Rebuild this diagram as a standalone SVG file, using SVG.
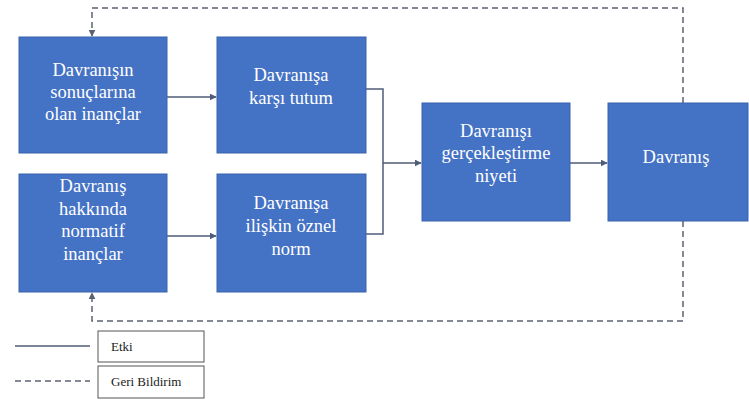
<svg xmlns="http://www.w3.org/2000/svg" width="749" height="405" viewBox="0 0 749 405" font-family="Liberation Serif, serif">
<style>
svg text, text, .t, .lt{font-family:"Liberation Serif","Times New Roman",serif !important}
.box{fill:#4472C4;stroke:#3A63AE;stroke-width:1}
.t{font-size:18.5px;fill:#ffffff;text-anchor:middle}
.lt{font-size:13px;fill:#222222}
.c{fill:none;stroke:#4F5D78;stroke-width:1.5}
.d{fill:none;stroke:#5B6272;stroke-width:1.5;stroke-dasharray:6 4}
.lg{fill:#ffffff;stroke:#555555;stroke-width:1}
</style>
<defs>
<marker id="ah" viewBox="0 0 10 10" refX="9" refY="5" markerWidth="7" markerHeight="7" markerUnits="userSpaceOnUse" orient="auto"><path d="M0,0 L10,5 L0,10 z" fill="#4F5D78"/></marker>
<marker id="ahd" viewBox="0 0 10 10" refX="9" refY="5" markerWidth="7" markerHeight="7" markerUnits="userSpaceOnUse" orient="auto"><path d="M0,0 L10,5 L0,10 z" fill="#5B6272"/></marker>
</defs>
<g id="connectors">
<line class="c" x1="167" y1="97" x2="216" y2="97" marker-end="url(#ah)"/>
<line class="c" x1="167" y1="236" x2="216" y2="236" marker-end="url(#ah)"/>
<polyline class="c" points="366,89 383,89 383,234 366,234"/>
<line class="c" x1="383" y1="163" x2="421" y2="163" marker-end="url(#ah)"/>
<line class="c" x1="570" y1="163" x2="607" y2="163" marker-end="url(#ah)"/>
<polyline class="d" points="683,103 683,8 92,8 92,36" marker-end="url(#ahd)"/>
<polyline class="d" points="683,221 683,321 92,321 92,293" marker-end="url(#ahd)"/>
</g>
<g id="n1"><rect class="box" x="19" y="37" width="148" height="116"/>
<text class="t" font-family="Liberation Serif" x="93" y="76">Davranışın</text><text class="t" font-family="Liberation Serif" x="93" y="98">sonuçlarına</text><text class="t" font-family="Liberation Serif" x="93" y="120">olan inançlar</text></g>
<g id="n2"><rect class="box" x="217" y="37" width="149" height="116"/>
<text class="t" font-family="Liberation Serif" x="291" y="81">Davranışa</text><text class="t" font-family="Liberation Serif" x="291" y="104">karşı tutum</text></g>
<g id="n3"><rect class="box" x="19" y="174" width="148" height="118"/>
<text class="t" font-family="Liberation Serif" x="93" y="192">Davranış</text><text class="t" font-family="Liberation Serif" x="93" y="215">hakkında</text><text class="t" font-family="Liberation Serif" x="93" y="237">normatif</text><text class="t" font-family="Liberation Serif" x="93" y="260">inançlar</text></g>
<g id="n4"><rect class="box" x="217" y="174" width="149" height="118"/>
<text class="t" font-family="Liberation Serif" x="291" y="209">Davranışa</text><text class="t" font-family="Liberation Serif" x="291" y="232">ilişkin öznel</text><text class="t" font-family="Liberation Serif" x="291" y="255">norm</text></g>
<g id="n5"><rect class="box" x="422" y="103" width="148" height="118"/>
<text class="t" font-family="Liberation Serif" x="496" y="137">Davranışı</text><text class="t" font-family="Liberation Serif" x="496" y="159">gerçekleştirme</text><text class="t" font-family="Liberation Serif" x="496" y="182">niyeti</text></g>
<g id="n6"><rect class="box" x="608" y="103" width="140" height="118"/>
<text class="t" font-family="Liberation Serif" x="676" y="163">Davranış</text></g>
<g id="legend">
<line x1="15" y1="346" x2="90" y2="346" stroke="#4F5D78" stroke-width="1.5"/>
<rect class="lg" x="98" y="331" width="106" height="31"/>
<text class="lt" font-family="Liberation Serif" x="111" y="351">Etki</text>
<line x1="15" y1="381" x2="90" y2="381" stroke="#5B6272" stroke-width="1.5" stroke-dasharray="6 4"/>
<rect class="lg" x="98" y="366" width="106" height="32"/>
<text class="lt" font-family="Liberation Serif" x="111" y="386">Geri Bildirim</text>
</g>
</svg>
